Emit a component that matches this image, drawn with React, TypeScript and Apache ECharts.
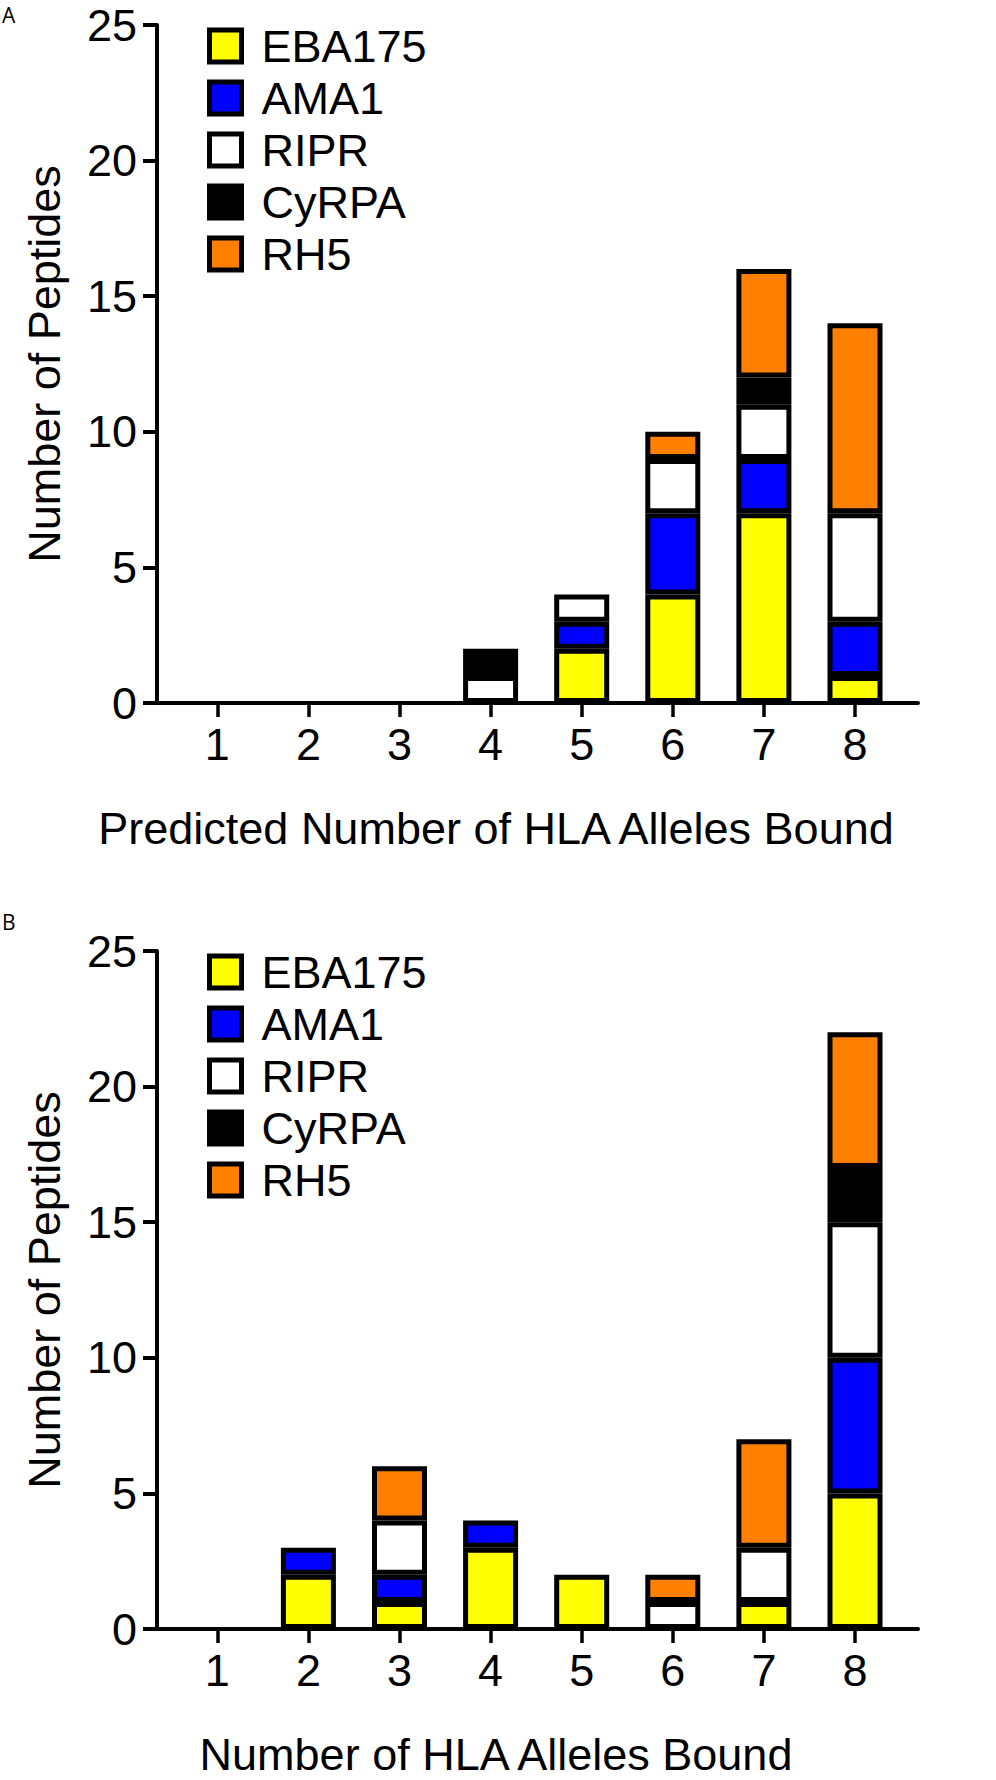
import React, { useEffect, useRef } from 'react';
import * as echarts from 'echarts';

// ---- data ----
const categories = ['1', '2', '3', '4', '5', '6', '7', '8'];
const seriesNames = ['EBA175', 'AMA1', 'RIPR', 'CyRPA', 'RH5'];
const seriesColors = ['#FFFF00', '#0000FF', '#FFFFFF', '#000000', '#FF8000'];

const eba175A = [0, 0, 0, 0, 2, 4, 7, 1];
const ama1A = [0, 0, 0, 0, 1, 3, 2, 2];
const riprA = [0, 0, 0, 1, 1, 2, 2, 4];
const cyrpaA = [0, 0, 0, 1, 0, 0, 1, 0];
const rh5A = [0, 0, 0, 0, 0, 1, 4, 7];

const eba175B = [0, 2, 1, 3, 2, 0, 1, 5];
const ama1B = [0, 1, 1, 1, 0, 0, 0, 5];
const riprB = [0, 0, 2, 0, 0, 1, 2, 5];
const cyrpaB = [0, 0, 0, 0, 0, 0, 0, 2];
const rh5B = [0, 0, 2, 0, 0, 1, 4, 5];

const yMin = 0;
const yMax = 25;
const yInterval = 5;

const panelLabels = ['A', 'B'];
const xTitles = ['Predicted Number of HLA Alleles Bound', 'Number of HLA Alleles Bound'];
const yTitle = 'Number of Peptides';

// ---- layout / style ----
const FONT = '"Liberation Sans", Arial, Helvetica, sans-serif';
const PANEL_TOPS = [25, 951];
const PLOT_H = 678;
const FRAME_LEFT = 157;
const FRAME_RIGHT = 918;
const BAND_LEFT = 171.75;
const BAND_RIGHT = 900.55;
const TITLE_CENTER = 496;

export default function App() {
  const ref = useRef<HTMLDivElement | null>(null);

  useEffect(() => {
    document.body.style.margin = '0';
    if (!ref.current) return;
    const chart = echarts.init(ref.current, undefined, { renderer: 'svg' });

    const panels = [
      [eba175A, ama1A, riprA, cyrpaA, rh5A],
      [eba175B, ama1B, riprB, cyrpaB, rh5B],
    ];

    const grid: any[] = [];
    const xAxis: any[] = [];
    const yAxis: any[] = [];
    const series: any[] = [];
    const legend: any[] = [];
    const graphic: any[] = [];

    panels.forEach((vals, p) => {
      const top = PANEL_TOPS[p];
      const gBars = p * 2;
      const gFrame = p * 2 + 1;
      grid.push({ left: BAND_LEFT, width: BAND_RIGHT - BAND_LEFT, top, height: PLOT_H });
      grid.push({ left: FRAME_LEFT, width: FRAME_RIGHT - FRAME_LEFT, top, height: PLOT_H });

      // category axis carrying the bars
      xAxis.push({
        type: 'category',
        gridIndex: gBars,
        data: categories,
        axisLine: { show: false },
        axisTick: { show: true, alignWithLabel: true, length: 14, lineStyle: { color: '#000', width: 3.5 } },
        axisLabel: { color: '#000', fontSize: 45, fontFamily: FONT, margin: 19 },
        splitLine: { show: false },
      });
      // frame axis: long baseline and title
      const shift = (FRAME_LEFT + FRAME_RIGHT) / 2 - TITLE_CENTER;
      xAxis.push({
        type: 'value',
        gridIndex: gFrame,
        min: 0,
        max: 1,
        axisLine: { show: true, lineStyle: { color: '#000', width: 4 } },
        axisTick: { show: false },
        axisLabel: { show: false },
        splitLine: { show: false },
        name: xTitles[p],
        nameLocation: 'middle',
        nameGap: 103,
        nameTextStyle: {
          color: '#000',
          fontSize: 45,
          fontFamily: FONT,
          padding: shift > 0 ? [0, shift * 2, 0, 0] : [0, 0, 0, -shift * 2],
        },
      });
      yAxis.push({
        type: 'value',
        gridIndex: gBars,
        min: yMin,
        max: yMax,
        interval: yInterval,
        show: false,
      });
      yAxis.push({
        type: 'value',
        gridIndex: gFrame,
        min: yMin,
        max: yMax,
        interval: yInterval,
        axisLine: { show: true, lineStyle: { color: '#000', width: 4 } },
        axisTick: { show: true, length: 14, lineStyle: { color: '#000', width: 4 } },
        axisLabel: { color: '#000', fontSize: 45, fontFamily: FONT, margin: 20 },
        splitLine: { show: false },
        name: yTitle,
        nameLocation: 'middle',
        nameGap: 90,
        nameTextStyle: { color: '#000', fontSize: 45, fontFamily: FONT },
      });

      vals.forEach((arr, s) => {
        series.push({
          type: 'bar',
          name: seriesNames[s],
          xAxisIndex: gBars,
          yAxisIndex: gBars,
          stack: 'panel' + p,
          barWidth: 55,
          itemStyle: { color: seriesColors[s], borderColor: '#000', borderWidth: 5 },
          emphasis: { disabled: true },
          data: arr.map((v) => (v === 0 ? { value: 0, itemStyle: { borderWidth: 0 } } : v)),
        });
      });

      legend.push({
        orient: 'vertical',
        left: 207,
        top: top - 1.5,
        padding: 0,
        itemWidth: 32,
        itemHeight: 32,
        itemGap: 7,
        icon: 'rect',
        selectedMode: false,
        data: seriesNames,
        itemStyle: { borderColor: '#000', borderWidth: 5 },
        formatter: '{t|{name}}',
        textStyle: {
          color: '#000',
          fontSize: 45,
          fontFamily: FONT,
          lineHeight: 45,
          rich: { t: { fontSize: 45, fontFamily: FONT, color: '#000', lineHeight: 45, padding: [0, 0, 0, 15] } },
        },
      });

      graphic.push({
        type: 'text',
        left: 2,
        top: p === 0 ? 4 : 911,
        style: { text: panelLabels[p], fontSize: 21, fontFamily: '"Open Sans", "DejaVu Sans", sans-serif', fill: '#000' },
      });
    });

    chart.setOption({
      animation: false,
      backgroundColor: '#fff',
      grid,
      xAxis,
      yAxis,
      series,
      legend,
      graphic,
    });

    return () => chart.dispose();
  }, []);

  return <div ref={ref} style={{ width: 996, height: 1780 }} />;
}
